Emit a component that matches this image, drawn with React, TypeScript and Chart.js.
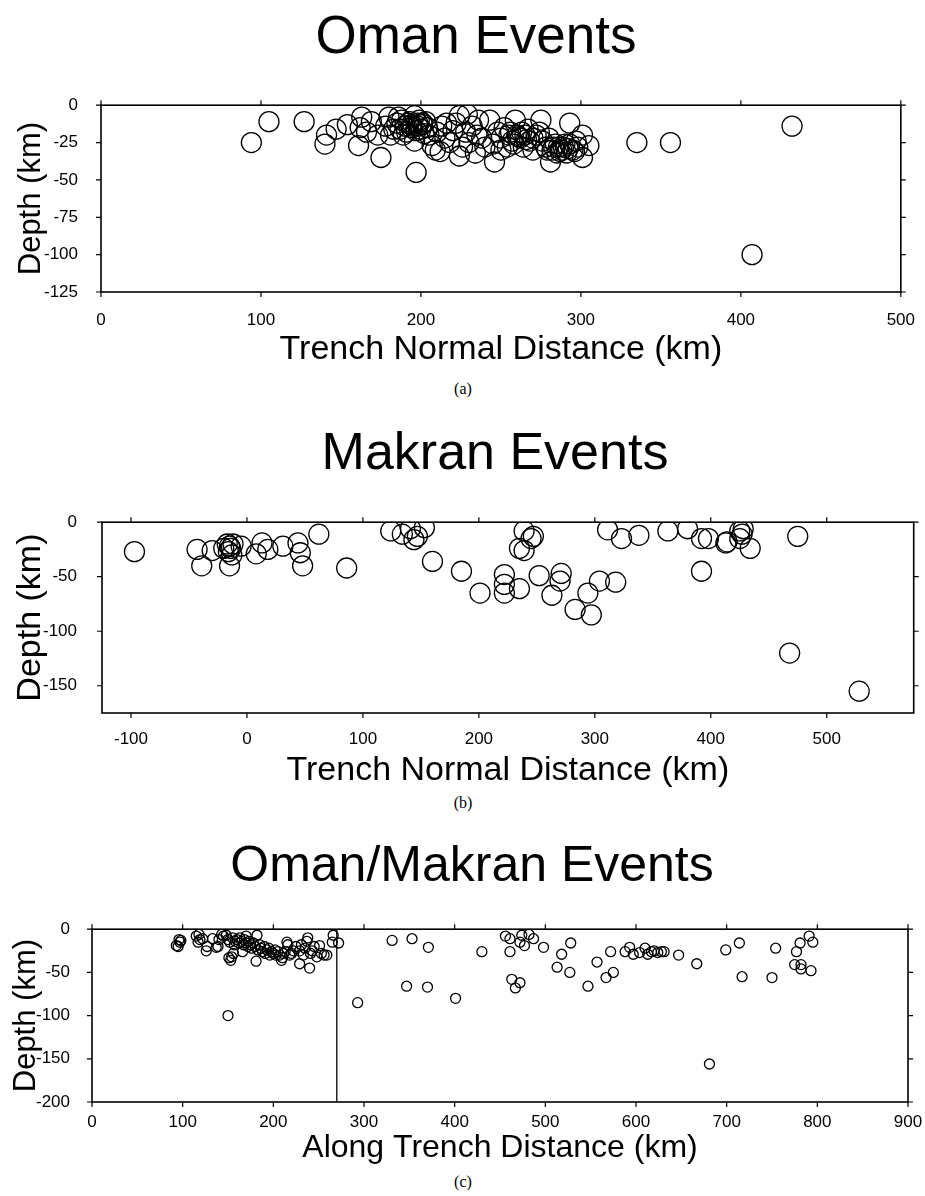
import React, { useEffect, useRef } from "react";
import { Chart, registerables } from "chart.js";
Chart.register(...registerables);

// ---------- Panel (a): Oman events ----------
const omanDistance = [
  94, 105, 127, 140, 141, 147, 154, 161, 162, 163, 169, 173, 175, 180, 181, 196, 197,
  183, 185, 186, 187, 188, 189, 190, 191, 192, 193, 194, 195, 196, 197, 198, 199, 200,
  201, 202, 203, 204, 205, 209, 210, 213, 215, 218, 220, 224, 224, 226, 228, 229, 230,
  232, 234, 235, 236, 238, 240, 243, 245, 246, 248, 250, 252, 255, 257, 258, 259, 260,
  262, 263, 265, 267, 268, 270, 272, 275, 276, 278, 280, 281, 282, 284, 285, 286, 288,
  290, 291, 293, 293, 295, 297, 298, 301, 301, 305, 335, 356, 407, 432,
  207, 212, 166, 178, 216, 222, 250, 254, 264, 270, 274,
  256, 261, 266, 279, 283, 287, 289, 292, 296, 194, 198, 201,
];
const omanDepth = [
  -25, -11, -11, -26, -20, -16, -13, -27, -15, -8, -11, -20, -35, -8, -20, -24, -45,
  -16, -12, -8, -16, -10, -20, -14, -18, -12, -11, -15, -14, -7, -17, -12, -10, -16,
  -13, -19, -11, -15, -20, -30, -18, -14, -22, -25, -17, -7, -34, -28, -18, -6, -25,
  -14, -32, -20, -10, -22, -28, -10, -26, -38, -18, -22, -15, -20, -24, -26, -10, -20,
  -22, -18, -20, -16, -24, -30, -20, -10, -24, -28, -22, -38, -30, -26, -32, -28, -30,
  -26, -32, -12, -26, -30, -24, -28, -20, -35, -27, -25, -25, -100, -14,
  -27, -31, -18, -14, -12, -12, -30, -28, -28, -22, -18,
  -18, -21, -23, -30, -28, -31, -28, -29, -31, -13, -14, -12,
];
const xTicksA = [0, 100, 200, 300, 400, 500];
const yTicksA = [0, -25, -50, -75, -100, -125];

// ---------- Panel (b): Makran events ----------
const makranDistance = [
  -97, -43, -39, -30, -20, -17, -16, -15, -14, -13, -12, -15, -5, 8, 13, 18, 31, 44, 46, 48,
  62, 86, 124, 134, 141, 144, 147, 153, 160, 185, 201, 222, 222, 222, 235, 239, 245, 247,
  235, 239, 252, 263, 270, 271, 283, 294, 297, 304, 318, 311, 323, 338, 363, 380, 392, 398,
  392, 413, 414, 425, 427, 428, 425, 434, 475, 468, 528,
];
const makranDepth = [
  -27, -25, -40, -26, -24, -20, -27, -22, -24, -30, -20, -40, -22, -29, -19, -25, -22, -19, -28, -40,
  -11, -42, -8, -11, -6, -16, -13, -5, -36, -45, -65, -48, -57, -65, -61, -8, -15, -13,
  -24, -26, -49, -67, -54, -47, -80, -65, -85, -54, -55, -7, -15, -12, -8, -6, -15, -15,
  -45, -19, -18, -8, -11, -6, -15, -24, -13, -120, -155,
];
const xTicksB = [-100, 0, 100, 200, 300, 400, 500];
const yTicksB = [0, -50, -100, -150];

// ---------- Panel (c): Oman/Makran events along trench ----------
const alongDistance = [
  93, 96, 97, 98, 95, 115, 117, 119, 118, 122, 126, 127, 133, 137, 139, 140, 143, 145, 148, 150,
  151, 153, 154, 156, 150, 152, 155, 157, 158, 160, 162, 163, 165, 166, 167, 168, 170, 170, 172, 173,
  175, 176, 178, 180, 181, 182, 183, 185, 186, 188, 190, 191, 193, 195, 196, 198, 200, 202, 203, 205,
  207, 209, 210, 211, 213, 215, 216, 218, 220, 222, 225, 229, 229, 231, 233, 235, 237, 238, 240, 241,
  243, 245, 248, 251, 253, 256, 259, 266, 265,
  272, 293, 331, 347, 353, 370, 371, 401, 430, 456, 461, 461, 463, 467, 472, 472, 474, 477, 482, 487,
  498, 513, 518, 527, 528, 547, 557, 567, 572, 575, 588, 593, 597, 604, 610, 613, 617, 620, 624, 628,
  631, 647, 667, 681, 699, 714, 717, 750, 754, 775, 777, 781, 782, 782, 791, 793, 795,
];
const alongDepth = [
  -19, -12, -15, -13, -20, -8, -15, -12, -6, -11, -25, -20, -11, -21, -20, -12, -6, -8, -7, -100,
  -33, -36, -32, -28, -12, -15, -10, -18, -14, -12, -16, -10, -14, -26, -18, -12, -8, -16, -20, -14,
  -18, -22, -16, -20, -37, -7, -24, -18, -22, -26, -20, -28, -24, -22, -30, -26, -28, -24, -30, -26,
  -30, -36, -33, -28, -26, -15, -18, -30, -28, -25, -20, -25, -40, -18, -30, -22, -14, -10, -45, -28,
  -25, -20, -32, -19, -28, -30, -30, -7, -15,
  -16, -85, -13, -66, -11, -67, -21, -80, -26, -8, -11, -26, -58, -68, -62, -15, -7, -19, -6, -11,
  -21, -44, -29, -50, -16, -66, -38, -56, -26, -50, -26, -21, -29, -27, -22, -29, -26, -25, -27, -26,
  -26, -30, -40, -156, -24, -16, -55, -56, -22, -41, -26, -16, -41, -46, -8, -48, -15,
];
const omanMakranBoundary = 270;
const xTicksC = [0, 100, 200, 300, 400, 500, 600, 700, 800, 900];
const yTicksC = [0, -50, -100, -150, -200];

const SANS = "'Liberation Sans', Arial, Helvetica, sans-serif";
const SERIF = "'Liberation Serif', 'Times New Roman', serif";

const framePlugin = {
  id: "frameTicks",
  afterDatasetsDraw(chart: any) {
    const { ctx, chartArea: a, scales } = chart;
    ctx.save();
    ctx.strokeStyle = "#000";
    ctx.lineWidth = 1.6;
    ctx.strokeRect(a.left, a.top, a.right - a.left, a.bottom - a.top);
    ctx.lineWidth = 1.2;
    const L = 5;
    ctx.beginPath();
    scales.x.ticks.forEach((t: any) => {
      const p = scales.x.getPixelForValue(t.value);
      ctx.moveTo(p, a.bottom);
      ctx.lineTo(p, a.bottom + L);
      ctx.moveTo(p, a.top);
      ctx.lineTo(p, a.top - L);
    });
    scales.y.ticks.forEach((t: any) => {
      const p = scales.y.getPixelForValue(t.value);
      ctx.moveTo(a.left, p);
      ctx.lineTo(a.left - L, p);
      ctx.moveTo(a.right, p);
      ctx.lineTo(a.right + L, p);
    });
    ctx.stroke();
    ctx.restore();
  },
};

type PanelSpec = {
  top: number;
  height: number;
  plotLeft: number;
  plotRight: number;
  plotTop: number;
  plotBottom: number;
  xs: number[];
  ys: number[];
  xMin: number;
  xMax: number;
  yMin: number;
  yMax: number;
  xTicks: number[];
  yTicks: number[];
  xTitle: string;
  xTitleSize: number;
  yTitleSize: number;
  yTitlePad: number;
  radius: number;
  xLabelPad: number;
  yLabelPad: number;
  boundary?: number;
};

function Panel({ spec }: { spec: PanelSpec }) {
  const ref = useRef<HTMLCanvasElement | null>(null);
  useEffect(() => {
    if (!ref.current) return;
    const s = spec;
    const datasets: any[] = [
      {
        data: s.xs.map((x, i) => ({ x, y: s.ys[i] })),
        pointStyle: "circle",
        pointRadius: s.radius,
        pointBackgroundColor: "rgba(0,0,0,0)",
        pointBorderColor: "#000",
        pointBorderWidth: 1.3,
        showLine: false,
        clip: 0,
      },
    ];
    if (s.boundary !== undefined) {
      datasets.push({
        data: [
          { x: s.boundary, y: s.yMin },
          { x: s.boundary, y: s.yMax },
        ],
        showLine: true,
        borderColor: "#000",
        borderWidth: 1.3,
        pointRadius: 0,
      });
    }
    const W = 925;
    const chart = new Chart(ref.current, {
      type: "scatter",
      data: { datasets },
      plugins: [framePlugin],
      options: {
        animation: false,
        responsive: false,
        events: [],
        layout: {
          padding: {
            left: 0,
            right: W - s.plotRight,
            top: s.plotTop - s.top,
            bottom: 0,
          },
        },
        plugins: { legend: { display: false }, tooltip: { enabled: false } },
        scales: {
          x: {
            type: "linear",
            min: s.xMin,
            max: s.xMax,
            grid: { display: false },
            border: { display: false },
            afterBuildTicks: (sc: any) => {
              sc.ticks = s.xTicks.map((v) => ({ value: v }));
            },
            afterFit: (sc: any) => {
              sc.height = s.height - (s.plotBottom - s.top);
            },
            ticks: {
              color: "#000",
              font: { family: SANS, size: 17 },
              padding: s.xLabelPad,
              maxRotation: 0,
              callback: (v: any) => String(v),
            },
            title: {
              display: true,
              text: s.xTitle,
              color: "#000",
              font: { family: SANS, size: s.xTitleSize },
              padding: { top: 0, bottom: 0 },
            },
          },
          y: {
            type: "linear",
            min: s.yMin,
            max: s.yMax,
            grid: { display: false },
            border: { display: false },
            afterBuildTicks: (sc: any) => {
              sc.ticks = s.yTicks.map((v) => ({ value: v }));
            },
            afterFit: (sc: any) => {
              sc.width = s.plotLeft;
            },
            ticks: {
              color: "#000",
              font: { family: SANS, size: 17 },
              padding: s.yLabelPad,
              callback: (v: any) => String(v),
            },
            title: {
              display: true,
              text: "Depth (km)",
              color: "#000",
              font: { family: SANS, size: s.yTitleSize },
              padding: { top: s.yTitlePad, bottom: 0 },
            },
          },
        },
      },
    } as any);
    return () => chart.destroy();
  }, [spec]);
  return (
    <canvas
      ref={ref}
      width={925}
      height={spec.height}
      style={{ position: "absolute", left: 0, top: spec.top, width: 925, height: spec.height }}
    />
  );
}

const panelA: PanelSpec = {
  top: 80, height: 290, plotLeft: 101, plotRight: 907, plotTop: 93, plotBottom: 292,
  xs: omanDistance, ys: omanDepth, xMin: 0, xMax: 500, yMin: -125, yMax: 0,
  xTicks: xTicksA, yTicks: yTicksA, xTitle: "Trench Normal Distance (km)", xTitleSize: 34,
  yTitleSize: 31, yTitlePad: 13,
  radius: 10, xLabelPad: 10, yLabelPad: 15,
};
const panelB: PanelSpec = {
  top: 495, height: 296, plotLeft: 102, plotRight: 917, plotTop: 511, plotBottom: 713,
  xs: makranDistance, ys: makranDepth, xMin: -125, xMax: 575, yMin: -175, yMax: 0,
  xTicks: xTicksB, yTicks: yTicksB, xTitle: "Trench Normal Distance (km)", xTitleSize: 34,
  yTitleSize: 34, yTitlePad: 10,
  radius: 10, xLabelPad: 8, yLabelPad: 17,
};
const panelC: PanelSpec = {
  top: 905, height: 262, plotLeft: 92, plotRight: 908, plotTop: 919, plotBottom: 1102,
  xs: alongDistance, ys: alongDepth, xMin: 0, xMax: 900, yMin: -200, yMax: 0,
  xTicks: xTicksC, yTicks: yTicksC, xTitle: "Along Trench Distance (km)", xTitleSize: 32,
  yTitleSize: 31, yTitlePad: 8,
  radius: 5, xLabelPad: 2, yLabelPad: 14, boundary: omanMakranBoundary,
};

function Label({ text, cx, cy, size, family }: { text: string; cx: number; cy: number; size: number; family: string }) {
  return (
    <div
      style={{
        position: "absolute",
        left: cx - 400,
        top: cy - size * 0.6,
        width: 800,
        height: size * 1.2,
        lineHeight: `${size * 1.2}px`,
        textAlign: "center",
        fontSize: size,
        fontFamily: family,
        color: "#000",
        whiteSpace: "nowrap",
      }}
    >
      {text}
    </div>
  );
}

export default function App() {
  return (
    <div style={{ position: "absolute", left: 0, top: 0, width: 925, height: 1196, background: "#fff", overflow: "hidden" }}>
      <Label text="Oman Events" cx={476} cy={35} size={53} family={SANS} />
      <Panel spec={panelA} />
      <Label text="(a)" cx={463} cy={389} size={16} family={SERIF} />
      <Label text="Makran Events" cx={495} cy={451} size={52} family={SANS} />
      <Panel spec={panelB} />
      <Label text="(b)" cx={463} cy={803} size={16} family={SERIF} />
      <Label text="Oman/Makran Events" cx={472} cy={864} size={50} family={SANS} />
      <Panel spec={panelC} />
      <Label text="(c)" cx={463} cy={1182} size={16} family={SERIF} />
    </div>
  );
}
